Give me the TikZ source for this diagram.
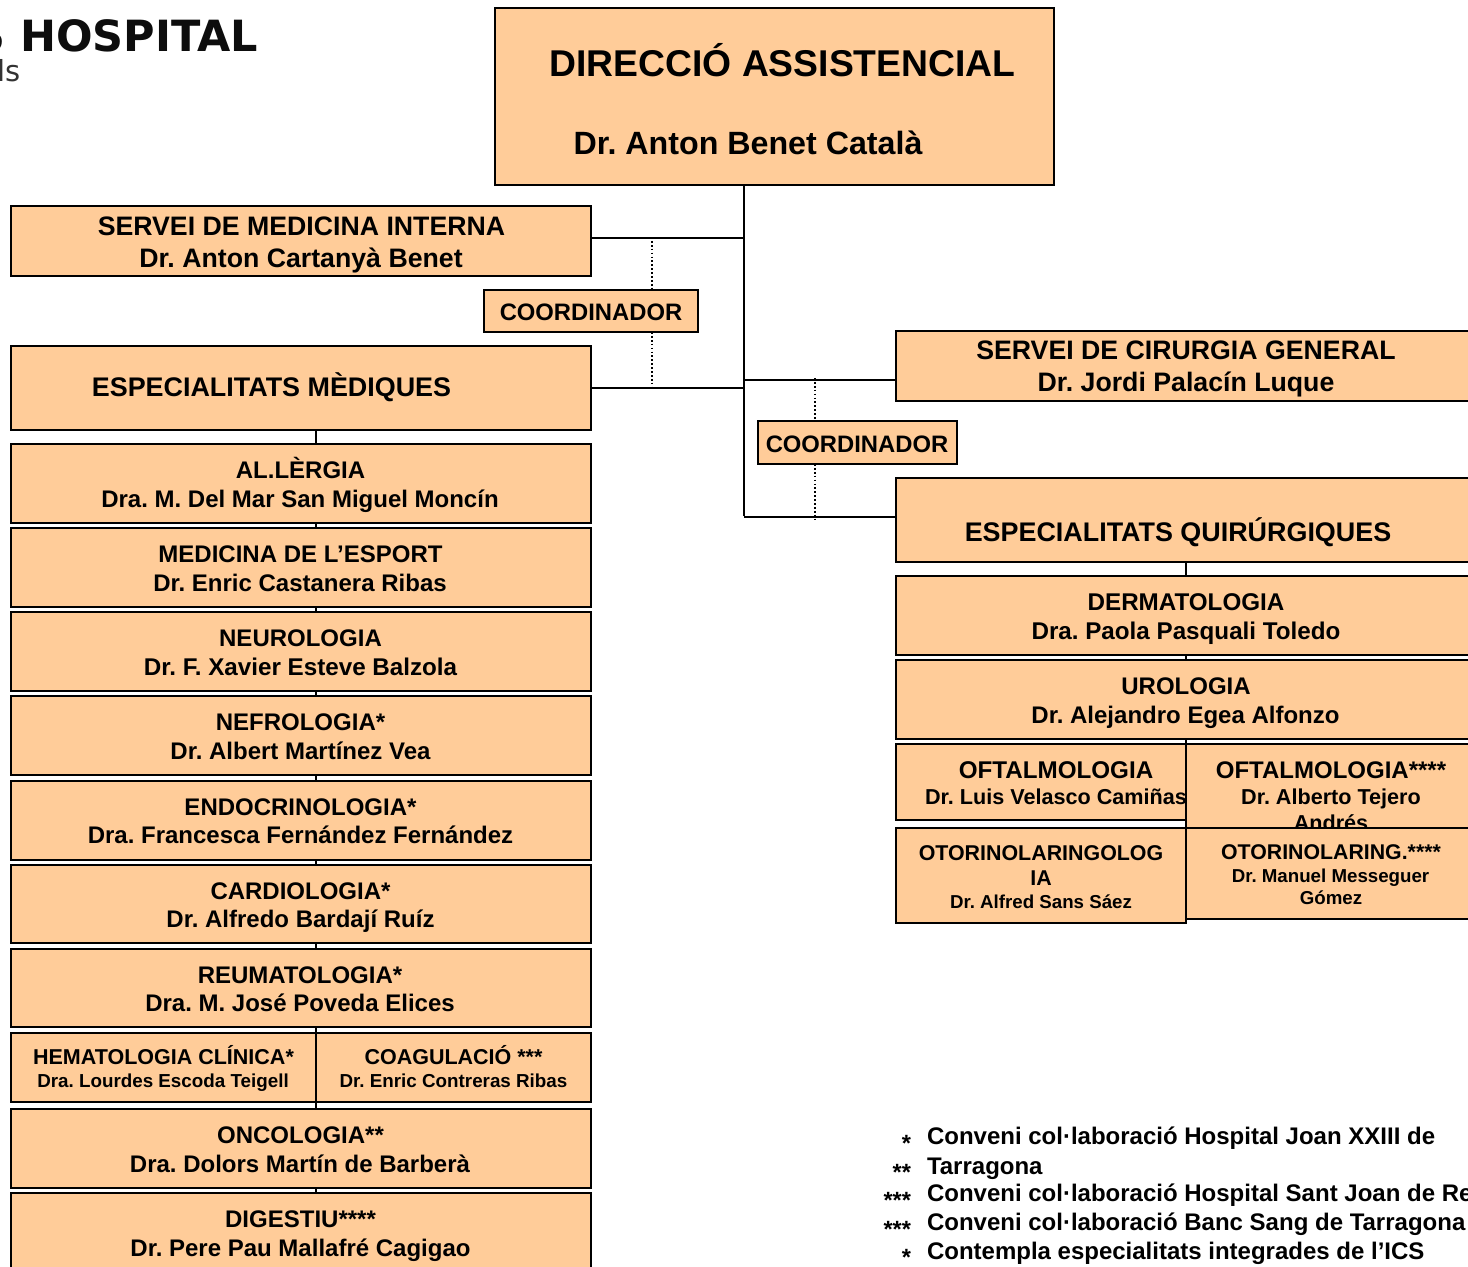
\documentclass[tikz,border=0pt]{standalone}
\usepackage{fontspec}
\setmainfont{Liberation Sans}
\newfontfamily\logofont{DejaVu Sans}
\usetikzlibrary{calc}
\pgfdeclarelayer{bg}
\pgfsetlayers{bg,main}
\definecolor{peach}{HTML}{FFCC99}
\frenchspacing
\tikzset{
  box/.style={draw=black,fill=peach,line width=2pt,inner sep=0pt,outer sep=0pt,anchor=north west},
  lab/.style={inner sep=0pt,outer sep=0pt,anchor=base,text=black},
  note/.style={inner sep=0pt,outer sep=0pt,anchor=base west,text=black,font=\bfseries\fontsize{24}{28}\selectfont},
  star/.style={inner sep=0pt,outer sep=0pt,anchor=base east,text=black,font=\bfseries\fontsize{23.5}{24}\selectfont},
  link/.style={draw=black,line width=2pt},
  dots/.style={draw=black,line width=1.6pt,dash pattern=on 1.7pt off 2.2pt},
}
\newcommand\bx[5]{%
  \pgfmathsetmacro\bxw{#4-#2}\pgfmathsetmacro\bxh{#5-#3}%
  \node[box,minimum width=\bxw pt,minimum height=\bxh pt] (#1) at (#2,#3) {};}
% name, x, baseline y, size, text
\newcommand\tl[5]{\node[lab,font=\bfseries\fontsize{#4}{#4}\selectfont] (#1) at (#2,#3) {#5};}
\begin{document}
\begin{tikzpicture}[x=1pt,y=-1pt]
\path[use as bounding box] (0,0) rectangle (1468,1267);
\clip (0,0) rectangle (1468,1267);
% logo
\node[inner sep=0pt,anchor=base east,font=\logofont\bfseries\fontsize{43}{43}\selectfont,text=black!95] (logoa) at (258,51) {S HOSPITAL};
\node[inner sep=0pt,anchor=base west,font=\logofont\fontsize{29}{29}\selectfont,text=black!80] (logob) at (-3,81) {ls};
% top
\bx{top}{495}{8}{1054}{185}
\tl{topa}{782.5}{76}{37.3}{DIRECCIÓ ASSISTENCIAL}
\tl{topb}{748}{154}{32.2}{Dr. Anton Benet Català}
% left column
\bx{mi}{11}{206}{591}{276}
\tl{mia}{301.5}{235}{26.7}{SERVEI DE MEDICINA INTERNA}
\tl{mib}{301}{267}{26.7}{Dr. Anton Cartanyà Benet}
\bx{ca}{484}{290}{698}{332}
\tl{caa}{591}{320}{23.8}{COORDINADOR}
\bx{em}{11}{346}{591}{430}
\tl{ema}{271.5}{396}{26.9}{ESPECIALITATS MÈDIQUES}
\bx{al}{11}{444}{591}{523}
\tl{ala}{300.5}{478}{24}{AL.LÈRGIA}
\tl{alb}{300}{507}{24}{Dra. M. Del Mar San Miguel Moncín}
\bx{es}{11}{528}{591}{607}
\tl{esa}{300.5}{562}{24}{MEDICINA DE L’ESPORT}
\tl{esb}{300}{591}{24}{Dr. Enric Castanera Ribas}
\bx{ne}{11}{612}{591}{691}
\tl{nea}{300.5}{646}{24}{NEUROLOGIA}
\tl{neb}{300.5}{675}{24.2}{Dr. F. Xavier Esteve Balzola}
\bx{nf}{11}{696}{591}{775}
\tl{nfa}{300.5}{730}{24}{NEFROLOGIA*}
\tl{nfb}{300.5}{759}{24}{Dr. Albert Martínez Vea}
\bx{en}{11}{781}{591}{860}
\tl{ena}{300.5}{815}{24}{ENDOCRINOLOGIA*}
\tl{enb}{300.5}{843}{24}{Dra. Francesca Fernández Fernández}
\bx{cd}{11}{865}{591}{943}
\tl{cda}{300.5}{899}{24}{CARDIOLOGIA*}
\tl{cdb}{300.5}{927}{24}{Dr. Alfredo Bardají Ruíz}
\bx{re}{11}{949}{591}{1027}
\tl{rea}{300}{983}{24}{REUMATOLOGIA*}
\tl{reb}{300}{1011}{24}{Dra. M. José Poveda Elices}
\bx{he}{11}{1033}{316}{1102}
\tl{hea}{163.5}{1064}{21.5}{HEMATOLOGIA CLÍNICA*}
\tl{heb}{163}{1087}{18.8}{Dra. Lourdes Escoda Teigell}
\bx{co}{316}{1033}{591}{1102}
\tl{coa}{453.5}{1064}{21.5}{COAGULACIÓ ***}
\tl{cob}{453.5}{1087}{18.8}{Dr. Enric Contreras Ribas}
\bx{on}{11}{1109}{591}{1188}
\tl{ona}{300.5}{1143}{24}{ONCOLOGIA**}
\tl{onb}{300}{1172}{24}{Dra. Dolors Martín de Barberà}
\bx{di}{11}{1193}{591}{1290}
\tl{dia}{300.5}{1227}{24}{DIGESTIU****}
\tl{dib}{300.5}{1256}{24}{Dr. Pere Pau Mallafré Cagigao}
% right column
\bx{cg}{896}{331}{1480}{401}
\tl{cga}{1186}{359}{26.7}{SERVEI DE CIRURGIA GENERAL}
\tl{cgb}{1186}{391}{26.7}{Dr. Jordi Palacín Luque}
\bx{cb}{758}{421}{957}{464}
\tl{cba}{857}{452}{23.8}{COORDINADOR}
\bx{eq}{896}{478}{1480}{562}
\tl{eqa}{1178}{541}{26.9}{ESPECIALITATS QUIRÚRGIQUES}
\bx{de}{896}{576}{1480}{655}
\tl{dea}{1186}{610}{24.2}{DERMATOLOGIA}
\tl{deb}{1186}{639}{24.2}{Dra. Paola Pasquali Toledo}
\bx{ur}{896}{660}{1480}{739}
\tl{ura}{1186}{694}{24}{UROLOGIA}
\tl{urb}{1185.5}{723}{24}{Dr. Alejandro Egea Alfonzo}
\bx{oa}{896}{744}{1186}{820}
\tl{oaa}{1056}{778}{24.2}{OFTALMOLOGIA}
\tl{oab}{1056}{804}{21.6}{Dr. Luis Velasco Camiñas}
\bx{ob}{1186}{744}{1480}{832}
\tl{oba}{1331}{778}{24}{OFTALMOLOGIA****}
\tl{obb}{1331}{804}{21.6}{Dr. Alberto Tejero}
\tl{obc}{1331}{830}{21.6}{Andrés}
\bx{oc}{1186}{828}{1480}{919}
\tl{oca}{1331}{859}{21.3}{OTORINOLARING.****}
\tl{ocb}{1330.5}{882}{18.7}{Dr. Manuel Messeguer}
\tl{occ}{1331}{904}{18.7}{Gómez}
\bx{od}{896}{828}{1186}{923}
\tl{oda}{1041}{860}{21.4}{OTORINOLARINGOLOG}
\tl{odb}{1041}{885}{21.4}{IA}
\tl{odc}{1041}{908}{18.7}{Dr. Alfred Sans Sáez}
% footnotes
\node[star] (s1) at (911,1151) {*};
\node[star] (s2) at (911,1180) {**};
\node[star] (s3) at (911,1208) {***};
\node[star] (s4) at (911,1237) {***};
\node[star] (s5) at (911,1265) {*};
\node[note] (n1) at (927,1144.5) {Conveni col·laboració Hospital Joan XXIII de};
\node[note] (n2) at (927,1174) {Tarragona};
\node[note] (n3) at (927,1201.5) {Conveni col·laboració Hospital Sant Joan de Reus};
\node[note] (n4) at (927,1230.5) {Conveni col·laboració Banc Sang de Tarragona};
\node[note] (n5) at (927,1259.5) {Contempla especialitats integrades de l’ICS};
% connectors
\coordinate (sp) at (743.5,186);
\coordinate (spe) at (743.5,516);
\coordinate (h1) at (743.5,238);
\coordinate (h2) at (743.5,388);
\coordinate (h3) at (743.5,380);
\coordinate (h4) at (743.5,517);
\coordinate (lv) at (316,430);
\coordinate (rv) at (1186,562);
\coordinate (d1) at (652,237);
\coordinate (d2) at (815,378);
\begin{pgfonlayer}{bg}
\draw[link] (top.south -| sp) -- (spe);
\draw[link] (mi.east |- h1) -- (h1);
\draw[link] (em.east |- h2) -- (h2);
\draw[link] (h3) -- (cg.west |- h3);
\draw[link] (h4) -- (eq.west |- h4);
\draw[link] (em.south -| lv) -- (di.north -| lv);
\draw[link] (eq.south -| rv) -- (oa.north -| rv);
\draw[dots] (d1) -- (d1 |- ca.north);
\draw[dots] (d1 |- ca.south) -- (652,387);
\draw[dots] (d2) -- (d2 |- cb.north);
\draw[dots] (d2 |- cb.south) -- (815,519);
\end{pgfonlayer}
\end{tikzpicture}
\end{document}
